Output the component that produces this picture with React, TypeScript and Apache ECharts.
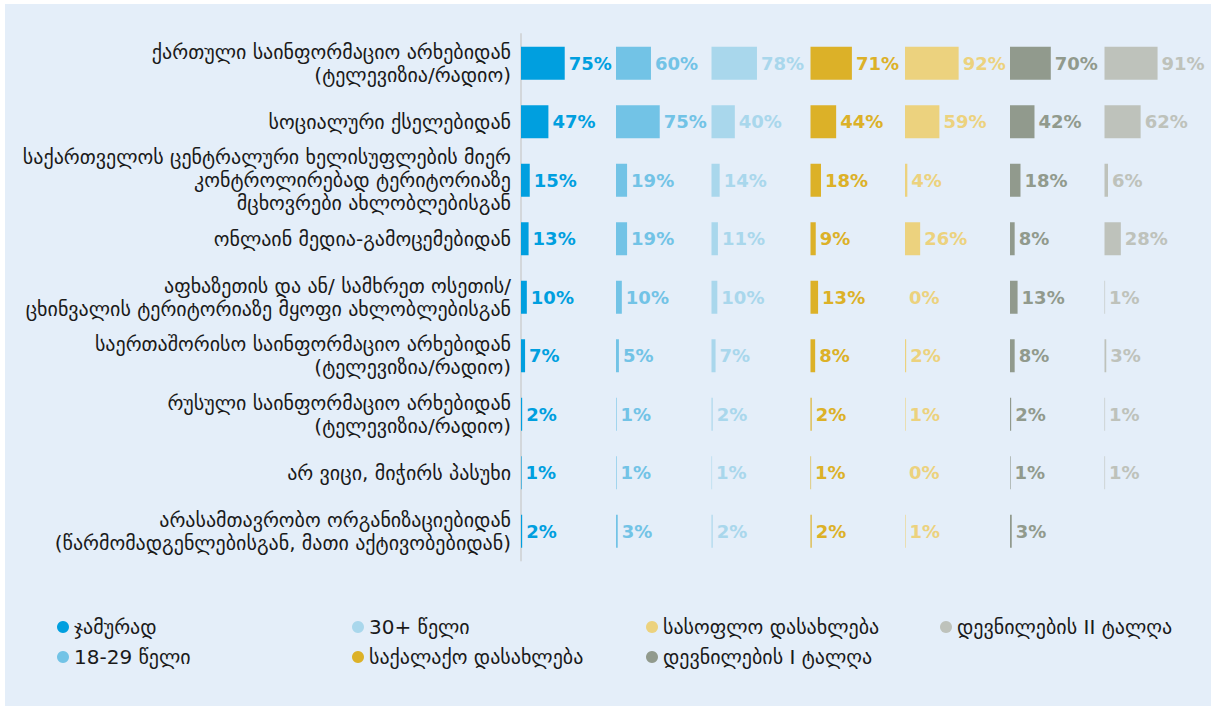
import React, { useEffect, useRef } from "react";
import * as echarts from "echarts";

const categories = [
  "ქართული საინფორმაციო არხებიდან\n(ტელევიზია/რადიო)",
  "სოციალური ქსელებიდან",
  "საქართველოს ცენტრალური ხელისუფლების მიერ\nკონტროლირებად ტერიტორიაზე\nმცხოვრები ახლობლებისგან",
  "ონლაინ მედია-გამოცემებიდან",
  "აფხაზეთის და ან/ სამხრეთ ოსეთის/\nცხინვალის ტერიტორიაზე მყოფი ახლობლებისგან",
  "საერთაშორისო საინფორმაციო არხებიდან\n(ტელევიზია/რადიო)",
  "რუსული საინფორმაციო არხებიდან\n(ტელევიზია/რადიო)",
  "არ ვიცი, მიჭირს პასუხი",
  "არასამთავრობო ორგანიზაციებიდან\n(წარმომადგენლებისგან, მათი აქტივობებიდან)",
];

const seriesNames = [
  "ჯამურად",
  "18-29 წელი",
  "30+ წელი",
  "საქალაქო დასახლება",
  "სასოფლო დასახლება",
  "დევნილების I ტალღა",
  "დევნილების II ტალღა",
];

const totalValues = [75, 47, 15, 13, 10, 7, 2, 1, 2];
const age1829Values = [60, 75, 19, 19, 10, 5, 1, 1, 3];
const age30Values = [78, 40, 14, 11, 10, 7, 2, 1, 2];
const urbanValues = [71, 44, 18, 9, 13, 8, 2, 1, 2];
const ruralValues = [92, 59, 4, 26, 0, 2, 1, 0, 1];
const idp1Values = [70, 42, 18, 8, 13, 8, 2, 1, 3];
const idp2Values: (number | null)[] = [91, 62, 6, 28, 1, 3, 1, 1, null];

const allValues = [
  totalValues,
  age1829Values,
  age30Values,
  urbanValues,
  ruralValues,
  idp1Values,
  idp2Values,
];

const colors = [
  "#009fdf",
  "#72c3e6",
  "#a9d7ec",
  "#dcb128",
  "#ecd27e",
  "#919a8d",
  "#bec2bb",
];

const legendColumns = [[0, 1], [2, 3], [4, 5], [6]];

export default function App() {
  const ref = useRef<HTMLDivElement>(null);

  useEffect(() => {
    document.body.style.margin = "0";
    if (!ref.current) return;
    const chart = echarts.init(ref.current, null, { renderer: "svg" });

    const gridLefts = [516, 611, 706.5, 805.5, 900, 1005, 1099.5];
    const font = "DejaVu Sans";

    const grids = gridLefts.map((l) => ({
      left: l,
      top: 30,
      width: 58.3,
      height: 526.5,
      containLabel: false,
    }));

    const xAxes = gridLefts.map((_, i) => ({
      type: "value",
      gridIndex: i,
      min: 0,
      max: 100,
      show: false,
    }));

    const yAxes = gridLefts.map((_, i) => ({
      type: "category",
      gridIndex: i,
      data: categories,
      inverse: true,
      axisTick: { show: false },
      axisLine: {
        show: i === 0,
        lineStyle: { color: "#d3d7db", width: 2 },
      },
      axisLabel: {
        show: i === 0,
        margin: 10,
        fontSize: 20,
        lineHeight: 23,
        fontFamily: font,
        color: "#1a1a1a",
        align: "right",
      },
      splitLine: { show: false },
    }));

    const series = seriesNames.map((name, i) => ({
      name,
      type: "bar",
      xAxisIndex: i,
      yAxisIndex: i,
      data: allValues[i],
      barWidth: 33,
      itemStyle: { color: colors[i] },
      label: {
        show: true,
        position: "right",
        distance: 4,
        formatter: (p: any) => (p.value == null ? "" : p.value + "%"),
        fontSize: 18,
        fontWeight: "bold",
        fontFamily: font,
        color: colors[i],
      },
    }));

    const legendLefts = [52, 347, 641, 935];
    const legends = legendColumns.map((col, ci) => ({
      orient: "vertical",
      left: legendLefts[ci],
      top: 613,
      padding: 0,
      itemWidth: 12,
      itemHeight: 12,
      itemGap: 10,
      icon: "circle",
      data: col.map((k) => seriesNames[k]),
      textStyle: {
        fontSize: 20,
        lineHeight: 20,
        fontFamily: font,
        color: "#1a1a1a",
      },
      selectedMode: false,
    }));

    chart.setOption({
      animation: false,
      backgroundColor: "#e4eef9",
      grid: grids,
      xAxis: xAxes,
      yAxis: yAxes,
      legend: legends,
      series,
    } as any);

    return () => chart.dispose();
  }, []);

  return (
    <div style={{ paddingLeft: 5, paddingTop: 4, background: "#ffffff" }}>
      <div ref={ref} style={{ width: 1206, height: 702 }} />
    </div>
  );
}
